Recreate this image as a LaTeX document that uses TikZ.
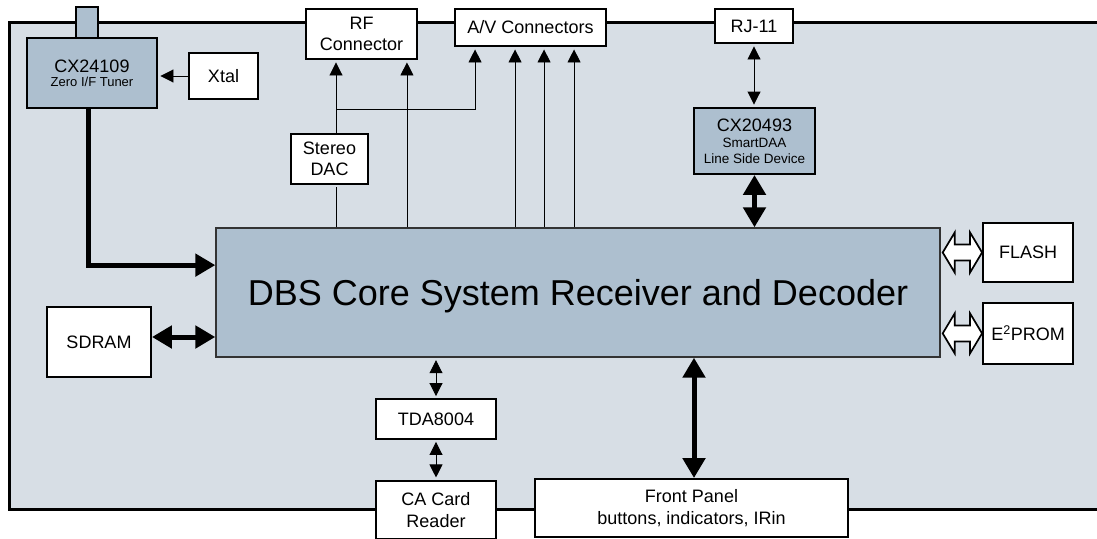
\documentclass[tikz,border=0pt]{standalone}
\usepackage{fontspec}
\setmainfont{Liberation Sans}
\usetikzlibrary{arrows.meta,calc,positioning}
\definecolor{board}{RGB}{215,222,229}
\definecolor{chip}{RGB}{173,191,207}
\newcommand{\lbl}{\fontsize{18}{21.5}\selectfont}

\begin{document}
\begin{tikzpicture}[x=1pt, y=-1pt, font=\lbl,
    plain/.style = {draw, line width=1.9pt, fill=white, inner sep=0pt, align=center},
    chipbox/.style = {draw, line width=1.9pt, fill=chip, inner sep=0pt, align=center},
    sig/.style = {line width=0.9pt, shorten >=2.5pt, >={Triangle[length=13pt,width=13pt]}},
    bus/.style = {line width=5pt, >={Triangle[length=20pt,width=22pt]}},
    hollow/.style = {draw, line width=1.7pt, fill=white, line join=miter}]
    \useasboundingbox (0,0) rectangle (1097,538);
    % board
    \draw[line width=3pt, fill=board] (9,22) rectangle (1130,509);
    \draw[line width=1.5pt, fill=chip] (76,7) rectangle (98,38);
    \node[chipbox, minimum width=130pt, minimum height=70pt, font=\fontsize{13}{14}\selectfont] (tuner) at (92,73) {{\lbl CX24109}\\Zero I/F Tuner};
    \node[plain, minimum width=69pt, minimum height=46pt] (xtal) at (223.5,76) {Xtal};
    \node[plain, minimum width=111pt, minimum height=50pt] (rf) at (361.5,34) {RF\\Connector};
    \node[plain, minimum width=77pt, minimum height=50pt] (dac) at (329.5,159) {Stereo\\DAC};
    \node[plain, minimum width=151pt, minimum height=37pt] (av) at (530.5,27.5) {A/V Connectors};
    \node[plain, minimum width=78pt, minimum height=34pt] (rj) at (754,26) {RJ-11};
    \node[chipbox, minimum width=121pt, minimum height=66pt, font=\fontsize{13.5}{16}\selectfont] (cx) at (754.5,141) {{\lbl CX20493}\\SmartDAA\\Line Side Device};
    \node[draw=black!80, line width=1.4pt, fill=chip, inner sep=0pt, minimum width=724pt, minimum height=129pt, font=\fontsize{36}{40}\selectfont, text depth=0pt] (core) at (578,292.5) {DBS Core System Receiver and Decoder};
    \node[plain, minimum width=90pt, minimum height=59pt] (flash) at (1028,252.5) {FLASH};
    \node[plain, minimum width=90pt, minimum height=61pt] (eprom) [below=19pt of flash] {E\textsuperscript{2}PROM};
    \node[plain, minimum width=104pt, minimum height=70pt] (sdram) at (99,342) {SDRAM};
    \node[plain, minimum width=120pt, minimum height=40pt] (tda) at (436,419) {TDA8004};
    \node[plain, minimum width=120pt, minimum height=58pt] (card) [below=40pt of tda] {CA Card\\Reader};
    \node[plain, minimum width=313pt, minimum height=58pt] (front) at (691.5,508) {Front Panel\\buttons, indicators, IRin};
    % thin links
    \draw[sig, ->] (xtal) -- (tuner.east |- xtal);
    \coordinate (split) at (336,109);
    \draw[sig] (split |- core.north) -- (split |- dac.south);
    \draw[sig, ->] (split |- dac.north) -- (split |- rf.south);
    \draw[sig, ->] (split) -| ($(av.south west)+(21,0)$);
    \coordinate (rfb) at ([xshift=-11pt]rf.south east);
    \draw[sig, ->] (rfb |- core.north) -- (rfb);
    \foreach \d in {61,90,120}{
        \coordinate (avp) at ([xshift=\d pt]av.south west);
        \draw[sig, ->] (avp |- core.north) -- (avp);
    }
    \draw[sig, <->, shorten <=2.5pt] (rj) -- (rj |- cx.north);
    \draw[sig, <->, shorten <=2pt] (tda) -- (tda |- core.south);
    \draw[sig, <->, shorten <=2pt] (tda) -- (card);
    % buses
    \coordinate (tb) at ([xshift=-4pt]tuner.south);
    \coordinate (tin) at ($(core.north west)!0.29!(core.south west)$);
    \draw[bus, ->] (tb) |- (tin);
    \coordinate (sd) at ([yshift=5pt]sdram.east);
    \draw[bus, <->] (sd) -- (sd -| core.west);
    \draw[bus, <->] (cx) -- (cx |- core.north);
    \draw[bus, <->] ([xshift=2.5pt]front.north) -- ([xshift=2.5pt]front.north |- core.south);
    % memory ports
    \foreach \m in {flash,eprom}{
        \coordinate (t) at ([xshift=2pt]core.east |- \m.west);
        \draw[hollow] (t) -- ++(12,-20) -- ++(0,12) -- ($(\m.west)+(-12,-8)$) -- ++(0,-12) -- (\m.west)
            -- ++(-12,20) -- ++(0,-12) -- ($(t)+(12,8)$) -- ++(0,12) -- cycle;
    }
\end{tikzpicture}
\end{document}
